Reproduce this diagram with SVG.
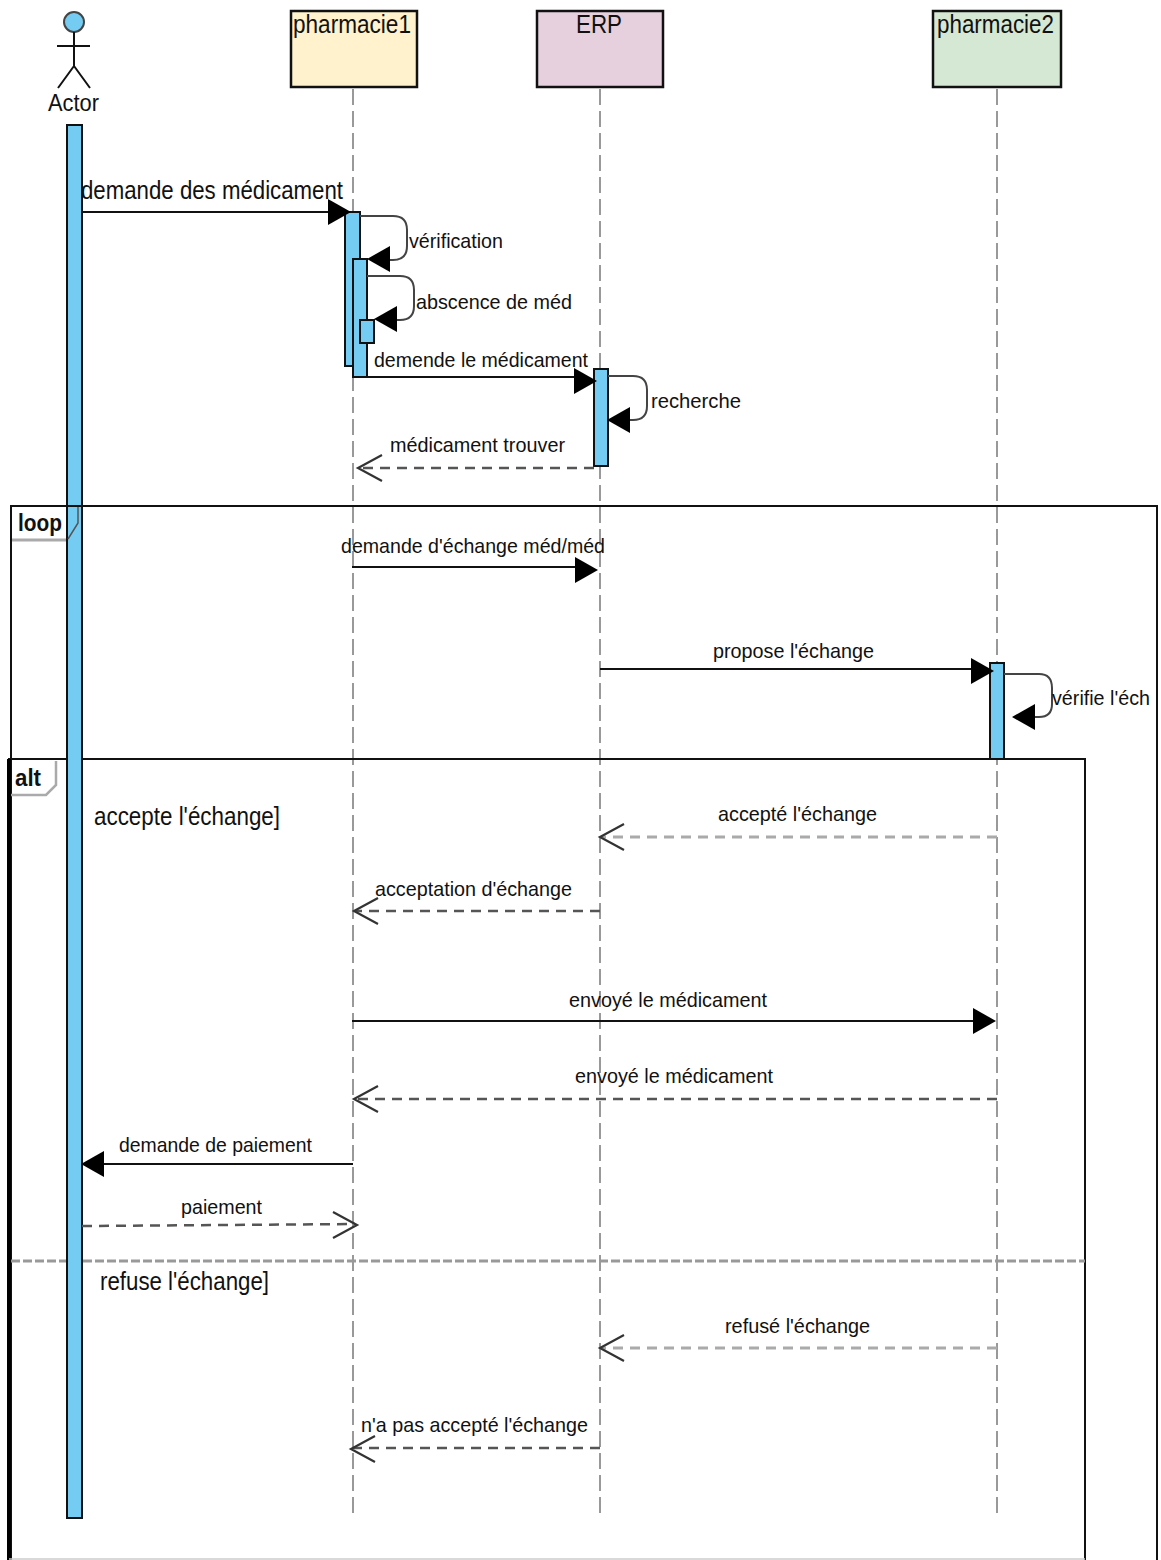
<svg xmlns="http://www.w3.org/2000/svg" width="1161" height="1560" viewBox="0 0 1161 1560">
<style>
text{font-family:"Liberation Sans",Arial,sans-serif;fill:#111;font-size:21px}
.s{font-size:21px}
.box{stroke:#111;stroke-width:2.5}
.bar{fill:#75ccf3;stroke:#111;stroke-width:2}
.life{stroke:#999;stroke-width:2;stroke-dasharray:16 6;fill:none}
.msg{stroke:#111;stroke-width:2;fill:none}
.self{stroke:#444;stroke-width:2;fill:none}
.ret{stroke:#aaa;stroke-width:3;stroke-dasharray:10 7;fill:none}
.ret2{stroke:#555;stroke-width:2.5;stroke-dasharray:10 7;fill:none}
.open{stroke:#333;stroke-width:2.2;fill:none}
.frame{fill:none;stroke:#111;stroke-width:2}
.tab{fill:#fff;stroke:#aaa;stroke-width:2.5}
</style>
<defs>
<polygon id="ar" points="0,0 -23,-13 -23,13" fill="#000"/>
<polygon id="al" points="0,0 23,-13 23,13" fill="#000"/>
<path id="ol" d="M24,-13 L0,0 L24,13" class="open"/>
<path id="or" d="M-24,-13 L0,0 L-24,13" class="open"/>
</defs>
<rect width="1161" height="1560" fill="#fff"/>
<g id="lifelines">
<line class="life" x1="353" y1="89" x2="353" y2="1519"/>
<line class="life" x1="600" y1="89" x2="600" y2="1519"/>
<line class="life" x1="997" y1="89" x2="997" y2="1519"/>
</g>
<g id="frame-loop">
<path class="frame" d="M11,1560V506H1157V1560"/>
<path class="tab" d="M12,540H68" style="fill:none;stroke-width:3"/>
<text x="18" y="531" style="font-weight:bold;font-size:23px" textLength="44" lengthAdjust="spacingAndGlyphs">loop</text>
</g>
<g id="frame-alt">
<path d="M9,1560V759H1085V1560" fill="none" stroke="#111" stroke-width="2"/>
<line x1="9" y1="759" x2="9" y2="1560" stroke="#000" stroke-width="4"/>
<line x1="9" y1="1559" x2="1085" y2="1559" stroke="#ccc" stroke-width="1.5"/>
<path class="tab" d="M11,795H46L56,785V761" style="fill:none"/>
<text x="15" y="786" style="font-weight:bold;font-size:23px" textLength="26" lengthAdjust="spacingAndGlyphs">alt</text>
<line x1="11" y1="1261" x2="1085" y2="1261" stroke="#999" stroke-width="3" stroke-dasharray="9 3"/>
<text x="94" y="825" style="font-size:25px" textLength="186" lengthAdjust="spacingAndGlyphs">accepte l'échange]</text>
<text x="100" y="1290" style="font-size:25px" textLength="169" lengthAdjust="spacingAndGlyphs">refuse l'échange]</text>
</g>
<g id="actor">
<circle cx="74" cy="22" r="10" fill="#75ccf3" stroke="#444" stroke-width="2"/>
<path d="M74,32V66M57,46H90M74,66L58,88M74,66L90,88" fill="none" stroke="#111" stroke-width="2"/>
<text x="48" y="111" style="font-size:24px" textLength="51" lengthAdjust="spacingAndGlyphs">Actor</text>
</g>
<g id="pharmacie1">
<rect class="box" x="291" y="11" width="126" height="76" fill="#fff2cc"/>
<text x="293" y="33" style="font-size:25px" textLength="118" lengthAdjust="spacingAndGlyphs">pharmacie1</text>
</g>
<g id="erp">
<rect class="box" x="537" y="11" width="126" height="76" fill="#e6d0de"/>
<text x="576" y="33" style="font-size:25px" textLength="46" lengthAdjust="spacingAndGlyphs">ERP</text>
</g>
<g id="pharmacie2">
<rect class="box" x="933" y="11" width="128" height="76" fill="#d5e8d4"/>
<text x="937" y="33" style="font-size:25px" textLength="117" lengthAdjust="spacingAndGlyphs">pharmacie2</text>
</g>
<g id="activations">
<rect class="bar" x="67" y="125" width="15" height="1393"/>
<rect class="bar" x="345" y="212" width="15" height="154"/>
<rect class="bar" x="353" y="259" width="14" height="118"/>
<rect class="bar" x="360" y="320" width="14" height="23"/>
<rect class="bar" x="594" y="369" width="14" height="97"/>
<rect class="bar" x="990" y="663" width="14" height="96"/>
</g>
<g id="frame-overlay">
<path d="M67,506H82" stroke="#111" stroke-width="2" fill="none"/>
<path d="M78,507V523L68,539" stroke="#555" stroke-width="1.5" fill="none"/>
</g>
<g id="connectors">
<line class="msg" x1="82" y1="212" x2="330" y2="212"/><use href="#ar" x="351" y="212"/>
<path class="self" d="M360,216H393Q407,216 407,230V246Q407,260 393,260H385"/><use href="#al" x="367" y="259"/>
<path class="self" d="M367,276H400Q414,276 414,290V306Q414,320 400,320H392"/><use href="#al" x="374" y="319"/>
<line class="msg" x1="367" y1="377" x2="580" y2="377"/><use href="#ar" x="597" y="381"/>
<path class="self" d="M608,376H633Q647,376 647,390V406Q647,420 633,420H625"/><use href="#al" x="607" y="420"/>
<line class="ret2" x1="594" y1="468" x2="358" y2="468"/><use href="#ol" x="358" y="468"/>
<line class="msg" x1="352" y1="567" x2="578" y2="567"/><use href="#ar" x="598" y="570"/>
<line class="msg" x1="600" y1="669" x2="975" y2="669"/><use href="#ar" x="994" y="671"/>
<path class="self" d="M1004,674H1039Q1052,674 1052,688V704Q1052,717 1039,717H1030"/><use href="#al" x="1012" y="717"/>
<line class="ret" x1="997" y1="837" x2="601" y2="837"/><use href="#ol" x="600" y="837"/>
<line class="ret2" x1="600" y1="911" x2="355" y2="911"/><use href="#ol" x="354" y="911"/>
<line class="msg" x1="352" y1="1021" x2="975" y2="1021"/><use href="#ar" x="996" y="1021"/>
<line class="ret2" x1="997" y1="1099" x2="355" y2="1099"/><use href="#ol" x="354" y="1099"/>
<line class="msg" x1="353" y1="1164" x2="100" y2="1164"/><use href="#al" x="81" y="1164"/>
<line class="ret2" x1="82" y1="1226" x2="355" y2="1224"/><use href="#or" x="357" y="1225"/>
<line class="ret" x1="997" y1="1348" x2="601" y2="1348"/><use href="#ol" x="600" y="1348"/>
<line class="ret2" x1="600" y1="1448" x2="353" y2="1448"/><use href="#ol" x="351" y="1449"/>
</g>
<g id="labels">
<text x="81" y="199" style="font-size:25px" textLength="262" lengthAdjust="spacingAndGlyphs">demande des médicament</text>
<text class="s" x="409" y="248" textLength="94" lengthAdjust="spacingAndGlyphs">vérification</text>
<text class="s" x="416" y="309" textLength="156" lengthAdjust="spacingAndGlyphs">abscence de méd</text>
<text class="s" x="374" y="367" textLength="214" lengthAdjust="spacingAndGlyphs">demende le médicament</text>
<text class="s" x="651" y="408" textLength="90" lengthAdjust="spacingAndGlyphs">recherche</text>
<text class="s" x="390" y="452" textLength="175" lengthAdjust="spacingAndGlyphs">médicament trouver</text>
<text class="s" x="341" y="553" textLength="264" lengthAdjust="spacingAndGlyphs">demande d'échange méd/méd</text>
<text class="s" x="713" y="658" textLength="161" lengthAdjust="spacingAndGlyphs">propose l'échange</text>
<text class="s" x="1052" y="705" textLength="98" lengthAdjust="spacingAndGlyphs">vérifie l'éch</text>
<text class="s" x="718" y="821" textLength="159" lengthAdjust="spacingAndGlyphs">accepté l'échange</text>
<text class="s" x="375" y="896" textLength="197" lengthAdjust="spacingAndGlyphs">acceptation d'échange</text>
<text class="s" x="569" y="1007" textLength="198" lengthAdjust="spacingAndGlyphs">envoyé le médicament</text>
<text class="s" x="575" y="1083" textLength="198" lengthAdjust="spacingAndGlyphs">envoyé le médicament</text>
<text class="s" x="119" y="1152" textLength="193" lengthAdjust="spacingAndGlyphs">demande de paiement</text>
<text class="s" x="181" y="1214" textLength="81" lengthAdjust="spacingAndGlyphs">paiement</text>
<text class="s" x="725" y="1333" textLength="145" lengthAdjust="spacingAndGlyphs">refusé l'échange</text>
<text class="s" x="361" y="1432" textLength="227" lengthAdjust="spacingAndGlyphs">n'a pas accepté l'échange</text>
</g>
</svg>
